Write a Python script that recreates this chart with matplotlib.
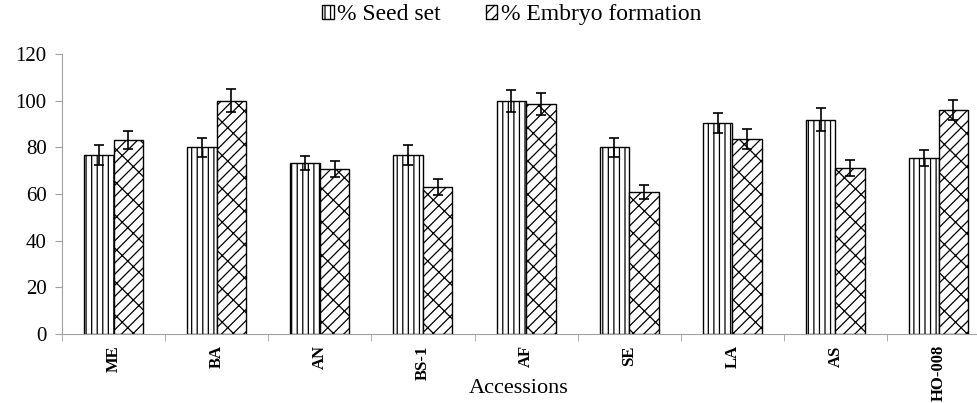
import matplotlib.pyplot as plt
import numpy as np

plt.rcParams['font.family'] = ['Liberation Serif', 'DejaVu Serif']
plt.rcParams['hatch.linewidth'] = 0.9

accessions = ['ME', 'BA', 'AN', 'BS-1', 'AF', 'SE', 'LA', 'AS', 'HO-008']
seed_set = [76.7, 80.0, 73.4, 76.7, 100.0, 80.0, 90.4, 91.9, 75.4]
seed_err = [4.2, 4.2, 3.1, 4.2, 4.7, 4.1, 4.3, 4.8, 3.4]
embryo = [83.1, 100.0, 70.6, 63.1, 98.6, 60.9, 83.6, 71.3, 96.0]
embryo_err = [4.0, 4.8, 3.4, 3.3, 4.6, 2.9, 4.1, 3.4, 4.1]

fig = plt.figure(figsize=(9.78, 4.03), dpi=100)
ax = fig.add_axes([0.0634, 0.171, 0.949, 0.695])

x = np.arange(len(accessions))
w = 0.286
err_kw = dict(ecolor='black', elinewidth=1.2, capsize=3.6, capthick=1.2)
ax.bar(x - w / 2, seed_set, w, yerr=seed_err, color='white', edgecolor='black',
       linewidth=1.0, hatch='|||', label='% Seed set', error_kw=err_kw)
ax.bar(x + w / 2, embryo, w, yerr=embryo_err, color='white', edgecolor='black',
       linewidth=1.0, hatch='///\\', label='% Embryo formation', error_kw=err_kw)

ax.set_xlim(-0.5, len(accessions) - 0.5)
ax.set_ylim(0, 120)
ax.set_yticks(np.arange(0, 121, 20))
ax.tick_params(axis='y', labelsize=15, length=5, color='#a0a0a0', pad=6)

# category labels, with tick marks between categories
ax.set_xticks(x)
ax.set_xticklabels(accessions, rotation=90, fontweight='bold', fontsize=12)
ax.tick_params(axis='x', which='major', length=0, pad=8)
ax.set_xticks(np.arange(-0.5, len(accessions), 1), minor=True)
ax.tick_params(axis='x', which='minor', length=5, color='#a0a0a0')

for s in ['top', 'right']:
    ax.spines[s].set_visible(False)
for s in ['left', 'bottom']:
    ax.spines[s].set_color('#a0a0a0')

ax.set_xlabel('Accessions', fontsize=16)
ax.xaxis.set_label_coords(0.4925, -0.193)
ax.xaxis.label.set_va('center')

fig.legend(loc='center', bbox_to_anchor=(0.523, 0.963), ncol=2, frameon=False,
           prop={'family': 'Liberation Serif', 'size': 17},
           handlelength=0.5, handleheight=0.5, handletextpad=0.15,
           columnspacing=1.9)

fig.savefig('out.png', dpi=100)
